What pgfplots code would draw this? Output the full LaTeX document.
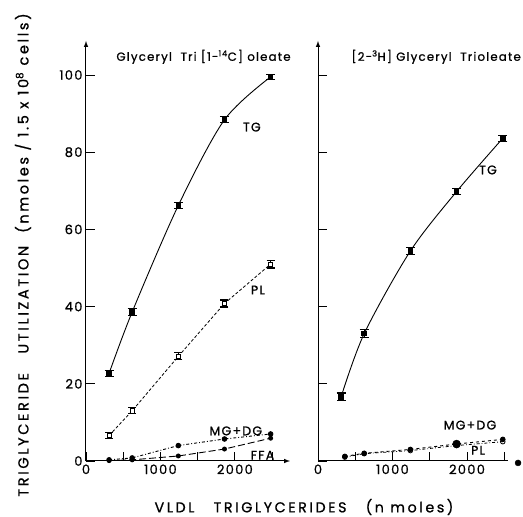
\documentclass[border=0pt]{standalone}
\usepackage{fontspec}
\setmainfont{Poppins}
\newfontfamily\spaced[LetterSpace=10, FakeBold=0.9]{Poppins}
\newfontfamily\wide[LetterSpace=18, FakeBold=0.9]{Poppins}
\usepackage{pgfplots}
\pgfplotsset{compat=1.18}
\tikzset{lbl/.style={font=\spaced\fontsize{12.5}{14}\selectfont}}
\pgfplotsset{
  panel/.style={
    scale only axis, ymin=0, ymax=108.8, height=420pt,
    xmin=0,
    axis x line=bottom, axis y line=left,
    tick align=inside, major tick length=9pt, minor tick length=9pt,
    axis line style={line width=1pt,-latex},
    tick style={line width=0.9pt,black},
    ticklabel style={font=\spaced\fontsize{13}{14}\selectfont},
    /pgf/number format/assume math mode=true,
    ytick={0,20,...,100},
    xtick={0,1000,2000}, xticklabels={0,1000,2000},
    minor xtick={500,1500,2500},
    clip=false,
  },
  tgline/.style={black, line width=0.9pt, smooth, mark=square*, mark size=2.3pt,
    error bars/.cd, y dir=both, y explicit,
    error bar style={line width=1.2pt, solid},
    error mark options={rotate=90, mark size=4.5pt, line width=1.3pt, solid}},
}
\pgfplotstableread{
x y e
310 22.7 0.8
620 38.6 0.9
1240 66.2 0.8
1860 88.4 0.8
2480 99.5 0.7
}\lefttg
\pgfplotstableread{
x y e
310 6.6 0.8
620 13.0 0.8
1240 27.1 0.9
1860 40.8 0.9
2480 51.0 1.0
}\leftpl
\pgfplotstableread{
x y
310 0.3
620 0.8
1240 4.0
1860 5.7
2480 7.0
}\leftmg
\pgfplotstableread{
x y
310 0.1
620 0.3
1240 1.3
1860 3.1
2480 5.9
}\leftffa
\pgfplotstableread{
x y e
310 16.6 1.0
620 33.0 1.0
1240 54.4 0.9
1860 69.8 0.8
2480 83.6 0.8
}\righttg
\pgfplotstableread{
x y
360 1.2
620 2.0
1240 3.0
1860 4.4
2480 5.6
}\rightmg
\pgfplotstableread{
x y
360 1.0
620 1.9
1240 2.7
1860 4.0
2480 5.0
}\rightpl
\begin{document}
\begin{tikzpicture}[x=1pt,y=1pt]
\path[use as bounding box] (-86,-56) rectangle (437,461);
% left panel
\begin{axis}[panel, at={(0pt,0pt)}, anchor=south west, xmax=2740, width=204pt]
\addplot[tgline] table[x=x,y=y,y error=e] {\lefttg};
\addplot[black, line width=0.8pt, densely dashed, mark=square*, mark size=2.1pt,
  mark options={solid, fill=white},
  error bars/.cd, y dir=both, y explicit,
  error bar style={line width=1pt, solid},
  error mark options={rotate=90, mark size=4pt, line width=1.1pt, solid}]
  table[x=x,y=y,y error=e] {\leftpl};
\addplot[black, line width=0.9pt, dash dot, mark=*, mark size=2.3pt, mark options={solid}] table[x=x,y=y] {\leftmg};
\addplot[black, line width=0.9pt, dash pattern=on 7pt off 3pt, mark=*, mark size=2pt, mark options={solid}] table[x=x,y=y] {\leftffa};
\node[anchor=west, font=\spaced\fontsize{11.8}{13}\selectfont] at (axis cs:362,104.7) {Glyceryl\ \ Tri [1-\textsuperscript{14}C] oleate};
\node[lbl] at (axis cs:2228,86.5) {TG};
\node[lbl] at (axis cs:2309,44.3) {PL};
\node[lbl] at (axis cs:2013,7.8) {MG+DG};
\node[lbl] at (axis cs:2370,1.5) {FFA};
\end{axis}
% right panel
\begin{axis}[panel, at={(232pt,0pt)}, anchor=south west, xmax=2550, width=190pt,
  yticklabels={}, x axis line style={-}]
\addplot[tgline] table[x=x,y=y,y error=e] {\righttg};
\addplot[black, line width=0.9pt, dashed, mark=*, mark size=2.3pt, mark options={solid}] table[x=x,y=y] {\rightmg};
\addplot[black, line width=0.8pt, dash dot, mark=o, mark size=2.3pt, mark options={solid, fill=white}] table[x=x,y=y] {\rightpl};
\addplot[black, only marks, mark=*, mark size=4pt] coordinates {(1860,4.4)};
\addplot[black, only marks, mark=*, mark size=3pt] coordinates {(2685,-0.5)};
\node[anchor=west, font=\spaced\fontsize{11.8}{13}\selectfont] at (axis cs:403,104.7) {[2-\textsuperscript{3}H] Glyceryl\ \ Trioleate};
\node[lbl] at (axis cs:2282,75.4) {TG};
\node[lbl] at (axis cs:2040,9.3) {MG+DG};
\node[lbl] at (axis cs:2148,2.8) {PL};
\end{axis}
\node[font=\wide\fontsize{14.3}{16}\selectfont] at (218,-46) {VLDL\ \ \ TRIGLYCERIDES\ \ \ (n moles)};
\node[rotate=90, font=\wide\fontsize{14.5}{16}\selectfont] at (-63,206) {TRIGLYCERIDE\ \ \ UTILIZATION\ \ (nmoles / 1.5 x 10\textsuperscript{8} cells)};
\end{tikzpicture}
\end{document}
